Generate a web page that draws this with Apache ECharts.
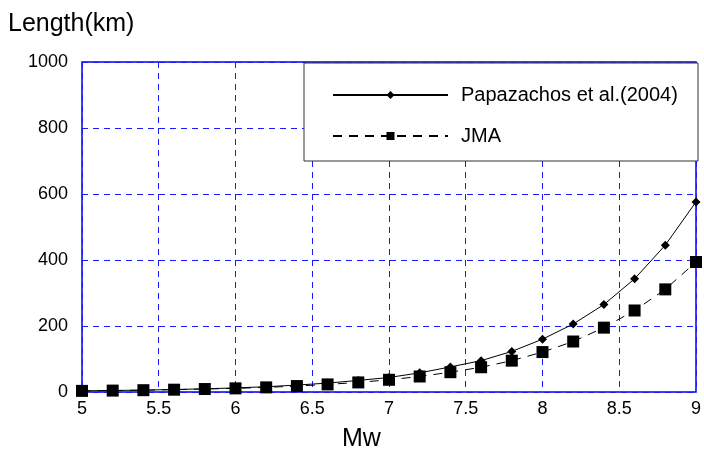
<!DOCTYPE html>
<html><head><meta charset="utf-8">
<script src="https://cdn.jsdelivr.net/npm/echarts@6/dist/echarts.min.js"></script>
<style>html,body{margin:0;padding:0;background:#fff}#c{width:704px;height:450px}</style>
</head><body><div id="c"></div>
<script>
const mw = [5.0,5.2,5.4,5.6,5.8,6.0,6.2,6.4,6.6,6.8,7.0,7.2,7.4,7.6,7.8,8.0,8.2,8.4,8.6,8.8,9.0];
const papazachos = [3.5,4.5,5.8,7.5,9.7,12.5,16,21,27,35,44,58,76,95,123,160,206,265,343,445,576];
const jma = [3.4,4.3,5.5,7,9,11,14,18,23,29,37,47,60,75,95,121,153,195,247,311,394];
const xTicks = [5,5.5,6,6.5,7,7.5,8,8.5,9];
const yTicks = [0,200,400,600,800,1000];
const seriesNames = ['Papazachos et al.(2004)','JMA'];

const chart = echarts.init(document.getElementById('c'));
const font = 'Liberation Sans, Arial, sans-serif';
const blue = '#1a1aff';
chart.setOption({
  animation:false,
  textStyle:{fontFamily:font},
  grid:{left:82,right:6,top:62,bottom:58,show:true,borderColor:'#0000ee',borderWidth:1.5,backgroundColor:'transparent'},
  xAxis:{type:'value',min:xTicks[0],max:xTicks[xTicks.length-1],interval:0.5,
    axisLine:{show:false},axisTick:{show:false},
    axisLabel:{color:'#000',fontSize:18,margin:8,fontFamily:font},
    splitLine:{show:true,lineStyle:{color:blue,type:[6,5],width:1}}},
  yAxis:{type:'value',min:yTicks[0],max:yTicks[yTicks.length-1],interval:200,
    axisLine:{show:false},axisTick:{show:false},
    axisLabel:{color:'#000',fontSize:18,margin:14,fontFamily:font,formatter:v=>String(v)},
    splitLine:{show:true,lineStyle:{color:blue,type:[6,5],width:1}}},
  graphic:[
    {type:'text',x:8,y:24,z:10,style:{text:'Length(km)',font:'25px '+font,fill:'#000',verticalAlign:'middle'}},
    {type:'text',x:342,y:439,z:10,style:{text:'Mw',font:'25px '+font,fill:'#000',verticalAlign:'middle'}},
    {type:'rect',shape:{x:304,y:63,width:394,height:98},z:5,style:{fill:'#fff',stroke:'#333',lineWidth:1}}
  ],
  legend:{orient:'vertical',left:327,top:80,z:10,itemWidth:115,itemHeight:10,itemGap:21,
    textStyle:{fontSize:20,color:'#000',fontFamily:font,lineHeight:20,padding:[0,0,0,8]},
    data:seriesNames},
  series:[
    {name:seriesNames[0],type:'line',data:mw.map((m,i)=>[m,papazachos[i]]),
      symbol:'diamond',symbolSize:9,itemStyle:{color:'#000'},lineStyle:{color:'#000',width:1},z:3},
    {name:seriesNames[1],type:'line',data:mw.map((m,i)=>[m,jma[i]]),
      symbol:'rect',symbolSize:12,itemStyle:{color:'#000'},lineStyle:{color:'#000',width:1,type:[9,7]},z:2}
  ]
});
</script></body></html>
